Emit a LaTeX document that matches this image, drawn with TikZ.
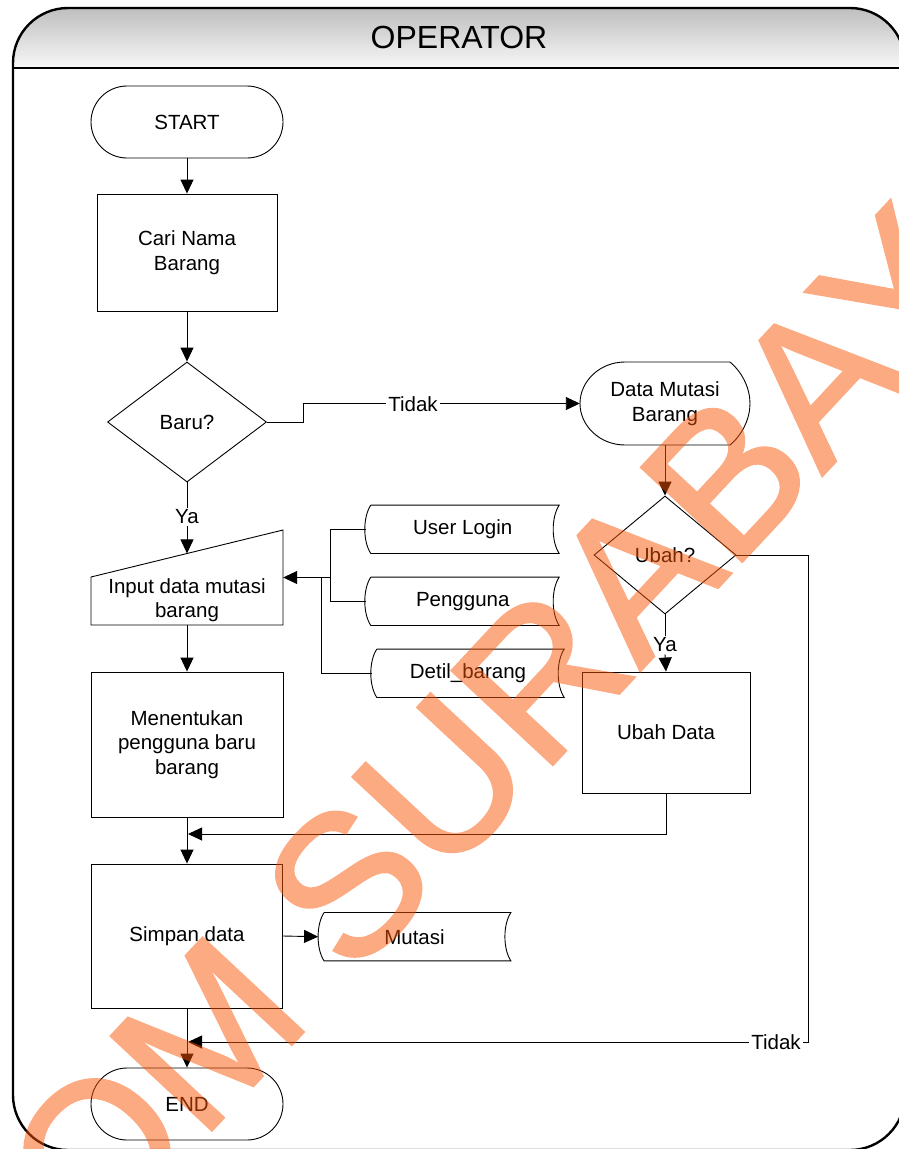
\documentclass[tikz,border=0pt]{standalone}
\usepackage{fontspec}
\setmainfont{Liberation Sans}
\newfontfamily\wmfont[FakeBold=1.5]{Liberation Sans}
\usetikzlibrary{arrows.meta,shapes.geometric,calc}
\definecolor{hdtop}{RGB}{190,190,190}
\definecolor{hdbot}{RGB}{248,248,248}
\definecolor{wm}{RGB}{250,85,5}
\newcommand\drawstore[3]{%
  \draw[line] ($(#1.north west)+(#2,0)$) -- (#1.north east)
    .. controls ($(#1.north east)+(-8,12)$) and ($(#1.south east)+(-8,-12)$) .. (#1.south east)
    -- ($(#1.south west)+(#2,0)$)
    .. controls ($(#1.south west)+(#3,-12)$) and ($(#1.north west)+(#3,12)$) .. ($(#1.north west)+(#2,0)$);}
\begin{document}
\begin{tikzpicture}[x=1pt,y=-1pt,
  font=\fontsize{20.5}{24.5}\selectfont,
  line/.style={draw=black,line width=0.9pt},
  arr/.style={line,-{Triangle[length=14pt,width=13pt]}},
  box/.style={draw=black,line width=0.9pt,inner sep=0pt,align=center},
  term/.style={box,rounded corners=36pt,minimum width=192pt,minimum height=72pt},
  dec/.style={box,diamond},
  hid/.style={inner sep=0pt,align=center},
  lbl/.style={fill=white,inner sep=2pt},
  frame/.style={draw=black,line width=2.4pt}]
\useasboundingbox (0,0) rectangle (899,1149);
\clip (0,0) rectangle (899,1149);
% swimlane frame
\begin{scope}
  \clip[rounded corners=55pt] (13,8) rectangle (905,1150);
  \shade[top color=hdtop,bottom color=hdbot] (13,8) rectangle (905,68);
\end{scope}
\draw[frame,rounded corners=55pt] (13,8) rectangle (905,1150);
\draw[frame] (13,68) -- (905,68);
\node[font=\fontsize{32}{38}\selectfont] (op) at (459,37) {OPERATOR};

% nodes
\node[term] (start) at (187,122) {START};
\node[box,minimum width=180pt,minimum height=117pt] (cari) at (187,252.5) {Cari Nama\\Barang};
\node[dec,minimum width=159pt,minimum height=120pt] (baru) at (187,422) {Baru?};
\node[hid,minimum width=170pt,minimum height=83pt] (dmb) at (665,403.5) {Data Mutasi\\Barang};
\draw[line] (625,362) -- (730,362) .. controls (742,372) and (750,388) .. (750,403.5)
  .. controls (750,419) and (742,435) .. (730,445) -- (625,445)
  .. controls (600,445) and (580,426) .. (580,403.5)
  .. controls (580,381) and (600,362) .. (625,362);
\node[dec,minimum width=142pt,minimum height=118pt] (ubah) at (665,555) {Ubah?};
\node[box,minimum width=168pt,minimum height=121pt] (ud) at (666,732.5) {Ubah Data};
\node[hid,minimum width=192pt,minimum height=95pt] (inp) at (187,577.5) {};
\draw[line] (91,577) -- (283,530) -- (283,625) -- (91,625) -- cycle;
\node[hid] (inpt) at (187,600) {Input data mutasi\\barang};
\coordinate (inptop) at (187,553.4);
\node[box,minimum width=192pt,minimum height=145pt] (men) at (187,744.5) {Menentukan\\pengguna baru\\barang};
\node[box,minimum width=191pt,minimum height=144pt] (simp) at (187,936) {Simpan data};
\node[term] (end) at (187,1104) {END};

\node[hid,minimum width=192.5pt,minimum height=48pt] (ul) at (462.75,529.3) {User Login};
\node[hid,minimum width=192.5pt,minimum height=48pt] (pg) at (462.75,601.3) {Pengguna};
\node[hid,minimum width=192pt,minimum height=48pt] (db) at (468,673.3) {Detil\_barang};
\node[hid,minimum width=192.4pt,minimum height=48pt] (mut) at (414.5,936.7) {Mutasi};
\drawstore{ul}{4.5}{-3.5}
\drawstore{pg}{4.5}{-3.5}
\drawstore{db}{5}{-3}
\drawstore{mut}{6}{-2}

% connectors
\draw[arr] (start) -- (cari);
\draw[arr] (cari) -- (baru);
\draw[arr] (baru.east) -- ++(36,0) |- (dmb.west);
\node[lbl] (t1) at (413,404) {Tidak};
\draw[arr] (dmb.south) -- (ubah.north);
\node[lbl] (ya2) at (665,645) {Ya};
\draw[line] (ubah.south) -- (ya2.north);
\draw[arr] (ya2.south) -- (ud.north);
\node[lbl] (ya1) at (187,517) {Ya};
\draw[line] (baru.south) -- (ya1.north);
\draw[arr] (ya1.south) -- (inptop);
\coordinate (j1) at (330,577.5);
\coordinate (j2) at (321,577.5);
\draw[line] (ul.west) -| (j1);
\draw[line] (pg.west) -| (j1);
\draw[arr] (j1) -- (inp.east);
\draw[line] (db.west) -| (j2);
\draw[arr] (inp.south) -- (men.north);
\draw[arr] (men.south) -- (simp.north);
\coordinate (m1) at (188,834);
\draw[arr] (ud.south) |- (m1);
\draw[arr] (simp.east) -- (mut.west);
\draw[arr] (simp.south) -- (end.north);
\coordinate (m2) at (188,1042);
\draw[arr] (ubah.east) -- (808,555) -- (808,1042) -- (m2);
\node[lbl] (t2) at (776,1042) {Tidak};

% watermark
\begin{scope}[transparency group,opacity=0.5]
\node[text=wm,inner sep=0pt,anchor=base west,rotate=47,
  font=\wmfont\fontsize{200}{200}\selectfont] (wmk) at (-208.7,1581) {STIKOM SURABAYA};
\end{scope}
\end{tikzpicture}
\end{document}
